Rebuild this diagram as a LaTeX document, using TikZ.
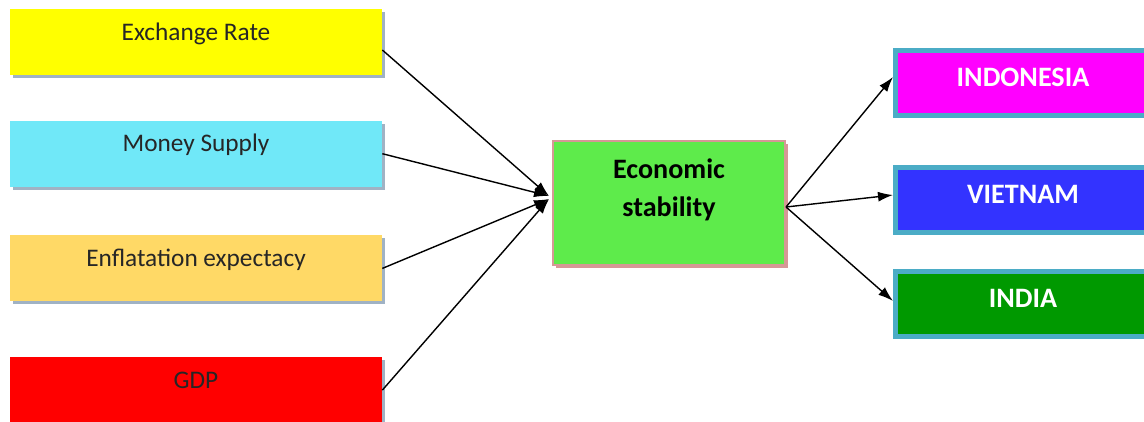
\documentclass[tikz,border=0pt]{standalone}
\usepackage{fontspec}
\setmainfont{Carlito}
\usepackage{tikz}
\usetikzlibrary{arrows.meta, positioning, shadows}
\definecolor{rateyellow}{RGB}{255,255,0}
\definecolor{moneycyan}{RGB}{112,232,248}
\definecolor{inflorange}{RGB}{255,217,102}
\definecolor{gdpred}{RGB}{255,0,0}
\definecolor{shadowblue}{RGB}{160,178,196}
\definecolor{hubgreen}{RGB}{94,235,75}
\definecolor{hubpink}{RGB}{214,152,150}
\definecolor{countryteal}{RGB}{75,172,198}
\definecolor{indomagenta}{RGB}{255,0,255}
\definecolor{vietblue}{RGB}{51,51,255}
\definecolor{indiagreen}{RGB}{0,153,0}
\tikzset{
  factor/.style={
    rectangle, minimum width=7.44cm, minimum height=1.32cm,
    inner ysep=0pt, text height=0.62cm, text depth=0.7cm,
    font=\fontsize{14.4}{16}\selectfont, text=black!85,
    drop shadow={shadow xshift=0.06cm, shadow yshift=-0.06cm,
      fill=shadowblue, opacity=1}
  },
  hub/.style={
    rectangle, minimum width=4.64cm, minimum height=2.48cm,
    draw=hubpink, line width=1.2pt, fill=hubgreen, align=center,
    text depth=0.6cm, font=\fontsize{16}{21.5}\selectfont\bfseries,
    drop shadow={shadow xshift=0.06cm, shadow yshift=-0.06cm,
      fill=hubpink, opacity=1}
  },
  country/.style={
    rectangle, minimum width=5.1cm, minimum height=1.3cm,
    draw=countryteal, line width=0.1cm, text=white,
    text height=0.34cm, text depth=0.2cm,
    font=\fontsize{16}{18}\selectfont\bfseries
  },
  arrow/.style={-{Latex[length=0.3cm, width=0.2cm]}, line width=0.8pt, color=black}
}
\begin{document}
\begin{tikzpicture}
  \useasboundingbox (0,0) rectangle (22.88,-8.42);
  % left column: driving factors
  \node[factor, fill=rateyellow] (rate) at (3.92,-0.84) {Exchange Rate};
  \node[factor, fill=moneycyan, below=0.9cm of rate] (money) {Money Supply};
  \node[factor, fill=inflorange, below=0.96cm of money] (infl) {Enflatation expectacy};
  \node[factor, fill=gdpred, below=1.1cm of infl] (gdp) {GDP};

  % middle
  \node[hub] (stab) at (13.38,-4.06) {Economic\\stability};
  \coordinate (hubin) at (10.98,-3.92);

  % right column: countries
  \node[country, fill=indomagenta] (indo) at (20.46,-1.66) {INDONESIA};
  \node[country, fill=vietblue, below=0.94cm of indo] (viet) {VIETNAM};
  \node[country, fill=indiagreen, below=0.68cm of viet] (india) {INDIA};

  \draw[arrow] ([yshift=-0.16cm]rate.east) -- (hubin);
  \draw[arrow] (money.east) -- (hubin);
  \draw[arrow] (infl.east) -- ([yshift=-0.06cm]hubin);
  \draw[arrow] (gdp.east) -- ([yshift=-0.06cm]hubin);
  \draw[arrow] ([yshift=-0.08cm]stab.east) -- ([yshift=0.12cm]indo.west);
  \draw[arrow] ([yshift=-0.08cm]stab.east) -- ([yshift=0.1cm]viet.west);
  \draw[arrow] ([yshift=-0.08cm]stab.east) -- ([yshift=0.06cm]india.west);
\end{tikzpicture}
\end{document}
